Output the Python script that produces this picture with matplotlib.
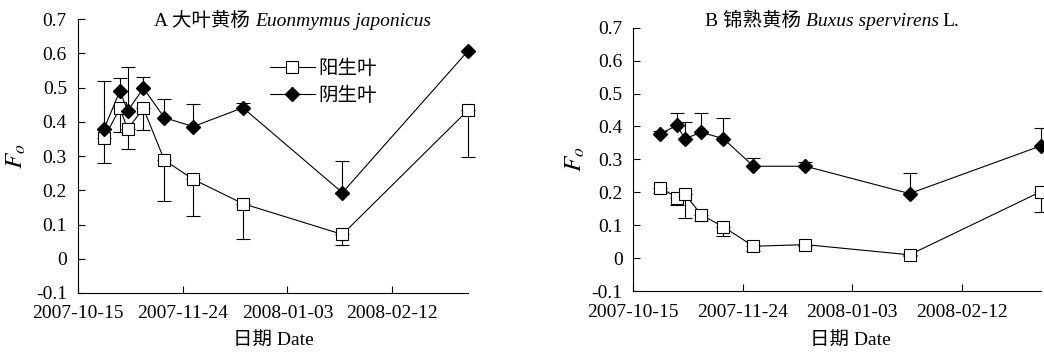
import datetime as dt
import numpy as np
import matplotlib
matplotlib.use("Agg")
import matplotlib.pyplot as plt
import matplotlib.dates as mdates

plt.rcParams['font.family'] = ['Liberation Serif', 'Noto Sans CJK SC']
plt.rcParams['mathtext.fontset'] = 'stix'

# sampling dates (same for both species)
fechas = ["2007-10-25", "2007-10-31", "2007-11-03", "2007-11-09", "2007-11-17",
          "2007-11-28", "2007-12-17", "2008-01-24", "2008-03-12"]
ticks_fecha = ["2007-10-15", "2007-11-24", "2008-01-03", "2008-02-12"]
y_ticks = [-0.1, 0, 0.1, 0.2, 0.3, 0.4, 0.5, 0.6, 0.7]
y_labels = ["-0.1", "0", "0.1", "0.2", "0.3", "0.4", "0.5", "0.6", "0.7"]

# A  Euonymus japonicus
a_sol = [0.353, 0.439, 0.379, 0.439, 0.288, 0.232, 0.161, 0.071, 0.434]
a_sol_err = [0.073, 0.068, 0.059, 0.063, 0.118, 0.108, 0.102, 0.032, 0.138]   # hacia abajo
a_sombra = [0.380, 0.490, 0.432, 0.498, 0.412, 0.386, 0.441, 0.193, 0.607]
a_sombra_err = [0.139, 0.037, 0.129, 0.034, 0.055, 0.065, 0.015, 0.092, 0.0]  # hacia arriba

# B  Buxus sempervirens
b_sol = [0.214, 0.184, 0.194, 0.131, 0.095, 0.036, 0.041, 0.010, 0.202]
b_sol_err = [0.015, 0.024, 0.071, 0.017, 0.029, 0.013, 0.005, 0.005, 0.062]
b_sombra = [0.378, 0.403, 0.363, 0.382, 0.363, 0.279, 0.279, 0.196, 0.341]
b_sombra_err = [0.009, 0.037, 0.051, 0.058, 0.062, 0.026, 0.014, 0.062, 0.053]

x = [dt.datetime.strptime(f, "%Y-%m-%d") for f in fechas]
xt = [dt.datetime.strptime(f, "%Y-%m-%d") for f in ticks_fecha]

fig = plt.figure(figsize=(10.44, 3.53), dpi=100)
axA = fig.add_axes([0.0747, 0.170, 0.3736, 0.776])
axB = fig.add_axes([0.6063, 0.1756, 0.3908, 0.746])

def panel(ax, sol, sol_err, sombra, sombra_err, ypad):
    z = np.zeros(len(x))
    for y, err in [(sol, [sol_err, z]), (sombra, [z, sombra_err])]:
        eb = ax.errorbar(x, y, yerr=err, fmt='none', ecolor='k', elinewidth=0.8,
                         capsize=5, capthick=0.8, zorder=2)
        for art in eb.lines[1] + eb.lines[2]:
            art.set_clip_on(False)
    ax.plot(x, sol, '-s', color='k', lw=0.8, markersize=8, markerfacecolor='white',
            markeredgewidth=0.8, label='阳生叶', zorder=3, clip_on=False)
    ax.plot(x, sombra, '-D', color='k', lw=0.8, markersize=7, markerfacecolor='k',
            label='阴生叶', zorder=3, clip_on=False)
    ax.set_xlim(dt.datetime(2007, 10, 15), dt.datetime(2008, 3, 12))
    ax.set_ylim(-0.1, 0.7)
    ax.set_xticks(xt)
    ax.xaxis.set_major_formatter(mdates.DateFormatter("%Y-%m-%d"))
    ax.set_yticks(y_ticks)
    ax.set_yticklabels(y_labels)
    ax.spines['top'].set_visible(False)
    ax.spines['right'].set_visible(False)
    for s in ['left', 'bottom']:
        ax.spines[s].set_linewidth(0.8)
    ax.tick_params(axis='both', direction='in', length=5, width=0.8, labelsize=14)
    ax.tick_params(axis='x', pad=9)
    ax.tick_params(axis='y', pad=ypad)
    ax.set_ylabel('$F_o$', fontsize=18)
    ax.set_xlabel('日期 Date', fontsize=14)

panel(axA, a_sol, a_sol_err, a_sombra, a_sombra_err, 8)
panel(axB, b_sol, b_sol_err, b_sombra, b_sombra_err, 7.5)

axA.yaxis.set_label_coords(-0.128, 0.5)
axB.yaxis.set_label_coords(-0.113, 0.5)
axA.xaxis.set_label_coords(0.5, -0.142)
axB.xaxis.set_label_coords(0.532, -0.156)

# titulos: parte normal + parte en cursiva
ty = 1 - 21 / 353
fig.text(250 / 1044, ty, 'A 大叶黄杨', ha='right', va='center', fontsize=14)
fig.text(255 / 1044, ty, 'Euonmymus japonicus', ha='left', va='center', fontsize=14, style='italic')
fig.text(801 / 1044, ty, 'B 锦熟黄杨', ha='right', va='center', fontsize=14)
fig.text(806 / 1044, ty, 'Buxus spervirens', ha='left', va='center', fontsize=14, style='italic')
fig.text(942 / 1044, ty, 'L.', ha='left', va='center', fontsize=14)

axA.legend(loc='upper left', bbox_to_anchor=(0.492, 0.851), frameon=False, fontsize=14,
           borderpad=0, borderaxespad=0, handlelength=2.3, handletextpad=0.2, labelspacing=0.45)

plt.savefig("out.png", dpi=100)
